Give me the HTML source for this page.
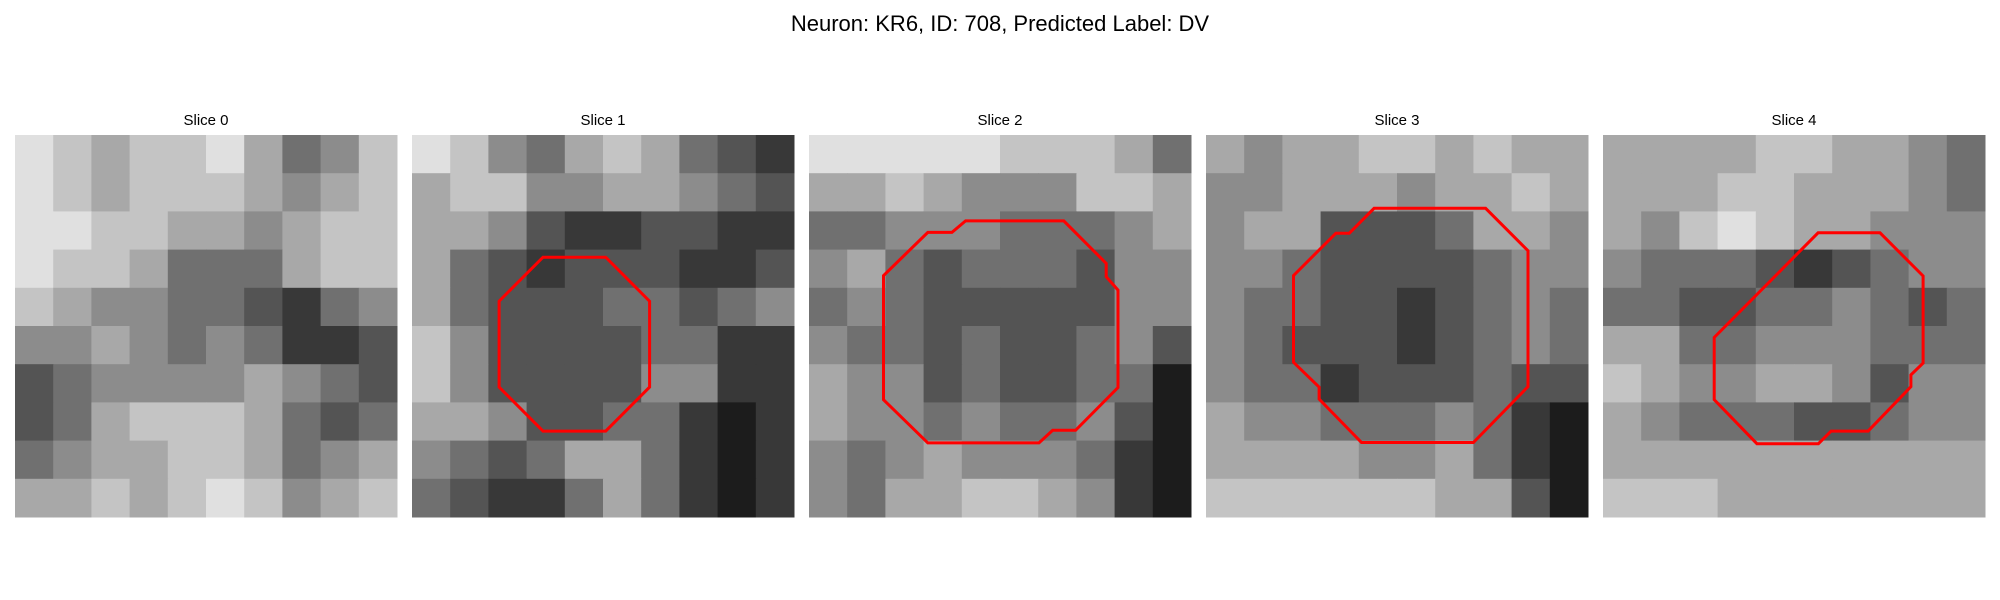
<!DOCTYPE html>
<html><head><meta charset="utf-8"><style>
html,body{margin:0;padding:0;background:#fff;}
svg{display:block;font-family:"Liberation Sans","DejaVu Sans",sans-serif;}
</style></head><body>
<svg id="fig" width="2000" height="600" viewBox="0 0 2000 600">
<text x="1000" y="31" text-anchor="middle" font-size="22" fill="#000">Neuron: KR6, ID: 708, Predicted Label: DV</text>
<g id="panels"></g>
</svg>
<script>
const sliceLabels = ["Slice 0","Slice 1","Slice 2","Slice 3","Slice 4"];
const slice0 = [
[8,7,6,7,7,8,6,4,5,7],[8,7,6,7,7,7,6,5,6,7],[8,8,7,7,6,6,5,6,7,7],[8,7,7,6,4,4,4,6,7,7],
[7,6,5,5,4,4,3,2,4,5],[5,5,6,5,4,5,4,2,2,3],[3,4,5,5,5,5,6,5,4,3],[3,4,6,7,7,7,6,4,3,4],
[4,5,6,6,7,7,6,4,5,6],[6,6,7,6,7,8,7,5,6,7]];
const slice1 = [
[8,7,5,4,6,7,6,4,3,2],[6,7,7,5,5,6,6,5,4,3],[6,6,5,3,2,2,3,3,2,2],[6,4,3,2,3,3,3,2,2,3],
[6,4,3,3,3,4,4,3,4,5],[7,5,3,3,3,3,4,4,2,2],[7,5,3,3,3,3,5,5,2,2],[6,6,5,3,3,4,4,2,1,2],
[5,4,3,4,6,6,4,2,1,2],[4,3,2,2,4,6,4,2,1,2]];
const slice2 = [
[8,8,8,8,8,7,7,7,6,4],[6,6,7,6,5,5,5,7,7,6],[4,4,5,5,5,4,4,4,5,6],[5,6,4,3,4,4,4,3,5,5],
[4,5,4,3,3,3,3,3,5,5],[5,4,4,3,4,3,3,4,5,3],[6,5,5,3,4,3,3,4,4,1],[6,5,5,4,5,4,4,5,3,1],
[5,4,5,6,5,5,5,4,2,1],[5,4,6,6,7,7,6,5,2,1]];
const slice3 = [
[6,5,6,6,7,7,6,7,6,6],[5,5,6,6,6,5,6,6,7,6],[5,6,6,3,3,3,4,6,6,5],[5,5,4,3,3,3,3,4,5,5],
[5,4,4,3,3,2,3,4,5,4],[5,4,3,3,3,2,3,4,5,4],[5,4,4,2,3,3,3,4,3,3],[6,5,5,4,4,4,5,4,2,1],
[6,6,6,6,5,5,6,4,2,1],[7,7,7,7,7,7,6,6,3,1]];
const slice4 = [
[6,6,6,6,7,7,6,6,5,4],[6,6,6,7,7,6,6,6,5,4],[6,5,7,8,7,6,6,5,5,5],[5,4,4,4,3,2,3,4,5,5],
[4,4,3,3,4,4,5,4,3,4],[6,6,4,4,5,5,5,4,4,4],[7,6,5,5,6,6,5,3,5,5],[6,5,4,4,4,3,3,4,5,5],
[6,6,6,6,6,6,6,6,6,6],[7,7,7,6,6,6,6,6,6,6]];
const slices = [slice0,slice1,slice2,slice3,slice4];
// contour points in image fraction coordinates (0..1) per slice
const contour1 = [[0.343,0.320],[0.507,0.320],[0.622,0.435],[0.622,0.660],[0.507,0.775],[0.343,0.775],[0.228,0.660],[0.228,0.435]];
const contour2 = [[0.410,0.225],[0.667,0.225],[0.778,0.336],[0.778,0.371],[0.809,0.406],[0.809,0.661],[0.698,0.773],[0.638,0.773],[0.602,0.806],[0.311,0.806],[0.195,0.693],[0.195,0.368],[0.311,0.255],[0.374,0.255]];
const contour3 = [[0.440,0.192],[0.732,0.192],[0.843,0.303],[0.843,0.659],[0.700,0.805],[0.407,0.805],[0.296,0.691],[0.296,0.660],[0.229,0.595],[0.229,0.368],[0.340,0.257],[0.375,0.257]];
const contour4 = [[0.563,0.256],[0.725,0.256],[0.838,0.369],[0.838,0.597],[0.806,0.628],[0.806,0.659],[0.694,0.775],[0.597,0.775],[0.564,0.808],[0.403,0.808],[0.291,0.693],[0.291,0.530]];
const contours = [null,contour1,contour2,contour3,contour4];

const panelX = [15,412,809,1206,1603];
const panelY = 135, panelW = 382, panelH = 382;
const NS = "http://www.w3.org/2000/svg";
const g = document.getElementById("panels");
function gray(v){ const c = Math.round(Math.max(0,Math.min(255, v*28))); return `rgb(${c},${c},${c})`; }
function xScale(i, p, n){ return panelX[p] + i*panelW/n; }
function yScale(j, n){ return panelY + j*panelH/n; }
slices.forEach((grid, p) => {
  const pg = document.createElementNS(NS,"g");
  
  
  g.appendChild(pg);
  const t = document.createElementNS(NS,"text");
  t.setAttribute("x", panelX[p] + panelW/2); t.setAttribute("y", 125);
  t.setAttribute("text-anchor","middle"); t.setAttribute("font-size","15");
  t.textContent = sliceLabels[p];
  
  
  pg.appendChild(t);
  const n = grid.length;
  grid.forEach((row, r) => row.forEach((v, c) => {
    const rc = document.createElementNS(NS,"rect");
    const x0 = xScale(c,p,n), y0 = yScale(r,n);
    rc.setAttribute("x", x0); rc.setAttribute("y", y0);
    rc.setAttribute("width", panelW/n + 0.5); rc.setAttribute("height", panelH/n + 0.5);
    rc.setAttribute("fill", gray(v));
    
    
    pg.appendChild(rc);
  }));
  const ct = contours[p];
  if (ct) {
    const pl = document.createElementNS(NS,"polygon");
    pl.setAttribute("points", ct.map(q => (panelX[p] + q[0]*panelW).toFixed(1) + "," + (panelY + q[1]*panelH).toFixed(1)).join(" "));
    pl.setAttribute("fill","none"); pl.setAttribute("stroke","#ff0000"); pl.setAttribute("stroke-width","3");
    
    
    pg.appendChild(pl);
  }
});
</script>
</body></html>
